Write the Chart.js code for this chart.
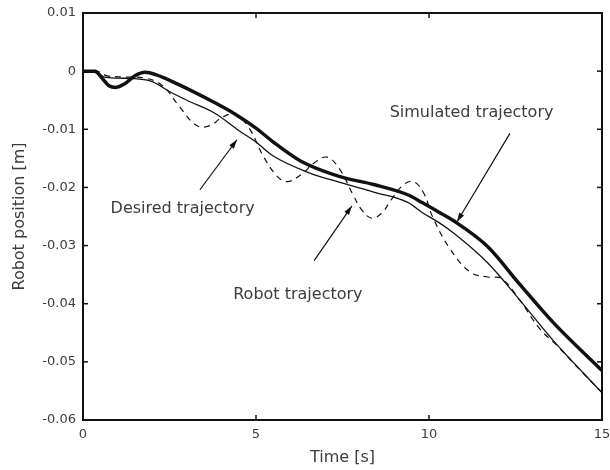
<!DOCTYPE html>
<html lang="en">
<head>
<meta charset="UTF-8" />
<title>Robot position</title>
<script src="https://cdn.jsdelivr.net/npm/chart.js"></script>
<style>
  html, body { margin: 0; padding: 0; background: #fff; }
</style>
</head>
<body>
<canvas id="posChart" width="610" height="470"></canvas>
<script>
// values: time [s], position [m]
const simTime = [0, 0.35, 0.55, 0.75, 0.95, 1.2, 1.5, 1.8, 2.1, 2.8, 3.8, 4.4, 5.0, 5.5, 6.3, 7.4, 8.4, 9.4, 9.8, 10.3, 10.7, 11.7, 12.6, 13.6, 15];
const simPos = [0, 0, -0.0012, -0.0025, -0.0028, -0.0022, -0.0008, -0.0002, -0.0006, -0.0024, -0.0054, -0.0074, -0.0098, -0.0122, -0.0155, -0.0181, -0.0195, -0.0213, -0.0226, -0.0243, -0.0257, -0.0302, -0.0365, -0.0433, -0.0515];

const desTime = [0, 0.4, 0.6, 1.0, 1.5, 2.0, 2.5, 3.0, 3.8, 4.5, 5.0, 5.5, 6.5, 7.4, 8.4, 9.4, 9.8, 10.3, 10.7, 11.7, 12.6, 13.6, 15];
const desPos = [0, -0.0003, -0.0010, -0.0012, -0.0013, -0.0018, -0.0035, -0.0050, -0.0072, -0.0102, -0.0122, -0.0146, -0.0174, -0.0191, -0.0208, -0.0226, -0.0243, -0.0261, -0.0278, -0.0330, -0.0392, -0.0464, -0.0553];

const robotTime = [0, 0.4, 0.7, 1.2, 1.8, 2.3, 2.8, 3.3, 3.7, 4.0, 4.4, 4.8, 5.2, 5.6, 5.9, 6.3, 6.7, 7.05, 7.4, 7.8, 8.05, 8.35, 8.65, 8.9, 9.25, 9.55, 9.85, 10.1, 10.6, 11.2, 11.7, 12.1, 12.6, 13.2, 13.7, 14.3, 15];
const robotPos = [0, 0, -0.0008, -0.0010, -0.0012, -0.0025, -0.0062, -0.0094, -0.0093, -0.0080, -0.0074, -0.0098, -0.0145, -0.0180, -0.0190, -0.0178, -0.0157, -0.0148, -0.0167, -0.0212, -0.0238, -0.0253, -0.0243, -0.0222, -0.0196, -0.0190, -0.0210, -0.0250, -0.0305, -0.0346, -0.0354, -0.0357, -0.0392, -0.0443, -0.0472, -0.0510, -0.0553];

const xTicks = [0, 5, 10, 15];
const yMin = -0.06, yMax = 0.01, yStep = 0.01;

// text labels with their arrows, in data units
const noteText = ["Simulated trajectory", "Desired trajectory", "Robot trajectory"];
const noteAt = [[11.23, -0.0072], [2.88, -0.0236], [6.21, -0.0384]];
const arrowFrom = [[12.34, -0.0107], [3.38, -0.0204], [6.68, -0.0326]];
const arrowTo = [[10.81, -0.0259], [4.45, -0.0118], [7.77, -0.0232]];

const pts = (xs, ys) => xs.map((t, i) => ({ x: t, y: ys[i] }));
const font = "'DejaVu Sans', sans-serif";
const ink = "#111";
const textInk = "#3c3c3c";

const frame = {
  id: "frame",
  beforeDraw(chart) {
    const ctx = chart.ctx;
    ctx.save();
    ctx.fillStyle = "#fff";
    ctx.fillRect(0, 0, chart.width, chart.height);
    ctx.restore();
  },
  afterDraw(chart) {
    const { ctx, chartArea: a, scales } = chart;
    const x = scales.x, y = scales.y;
    const seg = (x1, y1, x2, y2) => { ctx.beginPath(); ctx.moveTo(x1, y1); ctx.lineTo(x2, y2); ctx.stroke(); };
    ctx.save();
    ctx.strokeStyle = ink;
    ctx.fillStyle = ink;
    // inward ticks on all four sides
    ctx.lineWidth = 1.5;
    x.ticks.forEach((t) => {
      const px = x.getPixelForValue(t.value);
      seg(px, a.bottom, px, a.bottom - 5);
      seg(px, a.top, px, a.top + 5);
    });
    y.ticks.forEach((t) => {
      const py = y.getPixelForValue(t.value);
      seg(a.left, py, a.left + 5, py);
      seg(a.right, py, a.right - 5, py);
    });
    ctx.lineWidth = 2;
    ctx.strokeRect(a.left, a.top, a.right - a.left, a.bottom - a.top);

    // arrows
    ctx.lineWidth = 1.2;
    arrowFrom.forEach((f, i) => {
      const x1 = x.getPixelForValue(f[0]), y1 = y.getPixelForValue(f[1]);
      const x2 = x.getPixelForValue(arrowTo[i][0]), y2 = y.getPixelForValue(arrowTo[i][1]);
      seg(x1, y1, x2, y2);
      const ang = Math.atan2(y2 - y1, x2 - x1);
      ctx.beginPath();
      ctx.moveTo(x2, y2);
      ctx.lineTo(x2 - 9 * Math.cos(ang) + 2.8 * Math.sin(ang), y2 - 9 * Math.sin(ang) - 2.8 * Math.cos(ang));
      ctx.lineTo(x2 - 9 * Math.cos(ang) - 2.8 * Math.sin(ang), y2 - 9 * Math.sin(ang) + 2.8 * Math.cos(ang));
      ctx.closePath();
      ctx.fill();
    });

    // labels
    ctx.fillStyle = textInk;
    ctx.font = "16px " + font;
    ctx.textAlign = "center";
    ctx.textBaseline = "middle";
    noteText.forEach((s, i) => {
      ctx.fillText(s, x.getPixelForValue(noteAt[i][0]), y.getPixelForValue(noteAt[i][1]));
    });
    ctx.restore();
  },
};

new Chart(document.getElementById("posChart"), {
  type: "line",
  data: {
    datasets: [
      { label: "Robot trajectory", data: pts(robotTime, robotPos), borderColor: ink, borderWidth: 1.2, borderDash: [6, 5], tension: 0.4 },
      { label: "Desired trajectory", data: pts(desTime, desPos), borderColor: ink, borderWidth: 1.3, cubicInterpolationMode: "monotone" },
      { label: "Simulated trajectory", data: pts(simTime, simPos), borderColor: ink, borderWidth: 3.5, cubicInterpolationMode: "monotone" },
    ],
  },
  options: {
    responsive: false,
    animation: false,
    events: [],
    elements: { point: { radius: 0 } },
    layout: { padding: { top: 13, right: 8, left: 0, bottom: 0 } },
    plugins: { legend: { display: false }, tooltip: { enabled: false } },
    scales: {
      x: {
        type: "linear",
        min: 0,
        max: 15,
        afterBuildTicks: (s) => { s.ticks = xTicks.map((v) => ({ value: v })); },
        afterFit: (s) => { s.height = 50; s.paddingLeft = 0; s.paddingRight = 0; },
        grid: { display: false, drawTicks: false },
        border: { display: false },
        ticks: { padding: 7, color: textInk, font: { family: font, size: 13 } },
        title: { display: true, text: "Time [s]", color: textInk, font: { family: font, size: 16 }, padding: { top: 0, bottom: 3 } },
      },
      y: {
        min: yMin,
        max: yMax,
        ticks: {
          stepSize: yStep,
          padding: 7,
          color: textInk,
          font: { family: font, size: 13 },
          callback: (v) => (Math.abs(v) < 1e-9 ? "0" : v.toFixed(2)),
        },
        afterFit: (s) => { s.width = 83; s.paddingTop = 0; s.paddingBottom = 0; },
        grid: { display: false, drawTicks: false },
        border: { display: false },
        title: { display: true, text: "Robot position [m]", color: textInk, font: { family: font, size: 16 }, padding: { top: 10, bottom: 0 } },
      },
    },
  },
  plugins: [frame],
});
</script>
</body>
</html>
